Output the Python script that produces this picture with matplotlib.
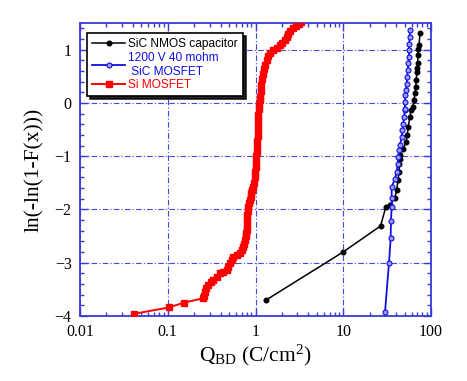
import matplotlib
matplotlib.use("Agg")
import matplotlib.pyplot as plt
from matplotlib.ticker import LogLocator, MultipleLocator, FixedLocator, FixedFormatter

# ---------------- data ----------------
nmos_x = [1.32, 9.94, 26.6, 30.5, 34.1, 38.5, 40.7, 42.0, 43.2, 43.6, 44.0, 44.3, 48.3,
          52.0, 53.5, 55.0, 57.5, 59.2, 61.9, 64.0, 65.5, 67.0, 68.0, 68.7, 69.6, 70.5,
          71.0, 71.6, 73.0, 74.9]
nmos_y = [-3.70, -2.80, -2.31, -1.96, -1.92, -1.79, -1.64, -1.45, -1.29, -1.14, -1.06, -0.98,
          -0.86, -0.73, -0.61, -0.45, -0.26, -0.14, -0.08, 0.05, 0.18, 0.30, 0.43, 0.58,
          0.66, 0.74, 0.89, 1.01, 1.08, 1.31]

sic_x = [29.9, 33.2, 34.7, 35.0, 35.6, 35.6, 35.6, 38.9, 40.7, 41.8, 42.6, 43.4, 44.3,
         46.4, 47.2, 48.3, 49.3, 50.5, 50.5, 50.5, 51.0, 51.8, 52.8, 53.5, 54.3, 55.2,
         56.1, 56.1, 56.5, 57.1, 57.6]
sic_y = [-3.93, -3.01, -2.54, -2.21, -1.95, -1.78, -1.58, -1.42, -1.29, -1.14, -1.01, -0.89,
         -0.79, -0.64, -0.51, -0.39, -0.26, -0.14, -0.11, 0.02, 0.14, 0.24, 0.36, 0.49,
         0.61, 0.74, 0.86, 0.99, 1.11, 1.24, 1.36]

si_x = [0.041, 0.103, 0.152, 0.25, 0.262, 0.266, 0.275, 0.29, 0.31, 0.331, 0.36, 0.394,
        0.43, 0.47, 0.49, 0.512, 0.535, 0.558, 0.61, 0.665, 0.70, 0.72, 0.74, 0.76, 0.775,
        0.785, 0.794, 0.80, 0.805, 0.81, 0.815, 0.83, 0.84, 0.86, 0.88, 0.90, 0.92, 0.944,
        0.96, 0.975, 0.99, 1.0, 1.01, 1.02, 1.03, 1.04, 1.05, 1.06, 1.065, 1.07, 1.075,
        1.08, 1.09, 1.10, 1.12, 1.13, 1.15, 1.17, 1.19, 1.22, 1.26, 1.30, 1.35, 1.40, 1.48,
        1.60, 1.75, 1.90, 2.03, 2.17, 2.27, 2.37, 2.50, 2.70, 2.90, 3.10, 3.27]
si_y = [-3.96, -3.84, -3.75, -3.67, -3.62, -3.55, -3.47, -3.42, -3.37, -3.33, -3.27, -3.20,
        -3.17, -3.14, -3.08, -3.01, -2.95, -2.89, -2.86, -2.82, -2.76, -2.70, -2.64, -2.58,
        -2.50, -2.44, -2.38, -2.30, -2.20, -2.10, -2.02, -1.95, -1.88, -1.82, -1.76, -1.70,
        -1.64, -1.58, -1.50, -1.40, -1.30, -1.20, -1.10, -1.00, -0.92, -0.82, -0.72, -0.62,
        -0.52, -0.42, -0.32, -0.22, -0.12, -0.04, 0.05, 0.12, 0.22, 0.33, 0.44, 0.54, 0.64,
        0.72, 0.80, 0.88, 0.94, 1.00, 1.03, 1.08, 1.12, 1.18, 1.24, 1.30, 1.35, 1.40, 1.44,
        1.48, 1.51]

x_ticks = [0.01, 0.1, 1, 10, 100]
x_ticklabels = ["0.01", "0.1", "1", "10", "100"]
y_ticks = [-4, -3, -2, -1, 0, 1]

# ---------------- plot ----------------
plt.rcParams['mathtext.fontset'] = 'custom'
plt.rcParams['mathtext.rm'] = 'Liberation Serif'
plt.rcParams['mathtext.it'] = 'Liberation Serif:italic'

fig = plt.figure(figsize=(4.67, 3.81), dpi=100)
ax = fig.add_axes([80/467, 65/381, 351/467, 293/381])

axis_blue = '#3a3ad8'
grid_blue = '#4848d8'

ax.plot(si_x, si_y, color='#ff0000', lw=1.4, marker='s', ms=4.9, mec='#ff0000',
        mfc='#ff0000', label='Si MOSFET', zorder=3)
ax.plot(nmos_x, nmos_y, color='black', lw=1.1, marker='o', ms=3.3, mfc='black',
        mec='black', label='SiC NMOS capacitor', zorder=4)
ax.plot(sic_x, sic_y, color='#1010e0', lw=1.3, marker='o', ms=3.6, mfc='#9a9af0',
        mec='#1010e0', mew=0.8, label='1200 V 40 mohm\n SiC MOSFET', zorder=5)

ax.set_xscale('log')
ax.set_xlim(0.01, 100)
ax.set_ylim(-4, 1.5)

ax.xaxis.set_major_locator(FixedLocator(x_ticks))
ax.xaxis.set_major_formatter(FixedFormatter(x_ticklabels))
ax.xaxis.set_minor_locator(LogLocator(base=10, subs=range(2, 10)))
ax.yaxis.set_major_locator(FixedLocator(y_ticks))
ax.yaxis.set_minor_locator(MultipleLocator(0.2))

ax.tick_params(which='both', direction='in', top=True, right=True, color=axis_blue,
               labelsize=11.5, labelcolor='black', width=1.0, pad=6)
ax.tick_params(which='major', length=6)
ax.tick_params(which='minor', length=3)
for lab in ax.get_xticklabels() + ax.get_yticklabels():
    lab.set_fontfamily('Liberation Serif')

for sp in ax.spines.values():
    sp.set_color(axis_blue)
    sp.set_linewidth(1.3)

ax.grid(True, which='major', color=grid_blue, ls=(0, (5, 2, 1, 2)), lw=0.8)

ax.set_xlabel(r'Q$_{\mathrm{BD}}$ (C/cm$^2$)', family='Liberation Serif', fontsize=15.5,
              labelpad=2)
ax.set_ylabel('ln(-ln(1-F(x)))', family='Liberation Serif', fontsize=15.5, labelpad=8)

h, l = ax.get_legend_handles_labels()
order = [1, 2, 0]
leg = ax.legend([h[i] for i in order], [l[i] for i in order], loc='upper left',
                bbox_to_anchor=(0.02, 0.966), borderaxespad=0, frameon=True, fancybox=False,
                shadow={'color': 'black', 'alpha': 0.85},
                prop={'family': 'Liberation Sans', 'size': 8.6},
                handlelength=2.7, handletextpad=0.3, borderpad=0.45, labelspacing=0.12)
leg.set_zorder(10)
leg.get_frame().set_edgecolor('black')
leg.get_frame().set_linewidth(1.2)
colors = ['black', '#1010e0', '#ff0000']
for t, c in zip(leg.get_texts(), colors):
    t.set_color(c)

fig.savefig('out.png', dpi=100)
